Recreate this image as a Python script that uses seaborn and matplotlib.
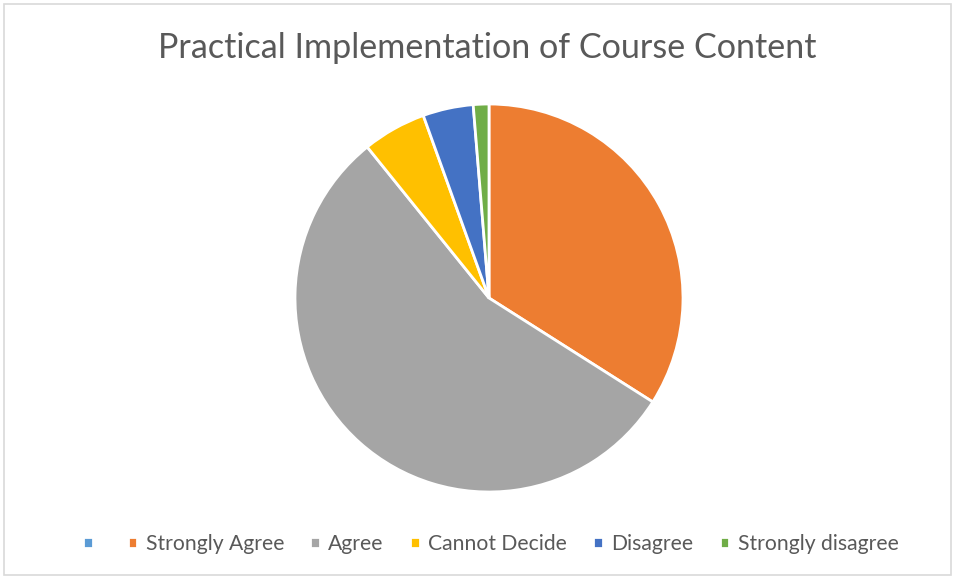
import matplotlib
matplotlib.use("Agg")
import matplotlib.pyplot as plt
from matplotlib.patches import Rectangle
import seaborn as sns

categories = ["", "Strongly Agree", "Agree", "Cannot Decide", "Disagree", "Strongly disagree"]
shares = [0, 34.0, 55.2, 5.3, 4.2, 1.3]
colors = ["#5B9BD5", "#ED7D31", "#A5A5A5", "#FFC000", "#4472C4", "#70AD47"]

sns.set_theme(style="white")
plt.rcParams["font.family"] = ["Lato", "DejaVu Sans"]

fig = plt.figure(figsize=(9.56, 5.78), dpi=100)
fig.patch.set_facecolor("white")
fig.patches.append(Rectangle((4 / 956, 3 / 578), 947 / 956, 571 / 578, transform=fig.transFigure,
                             fill=False, edgecolor="#D9D9D9", linewidth=1.2))

cx, cy, r = 489, 298, 194
ax = fig.add_axes([(cx - r) / 956, (578 - cy - r) / 578, 2 * r / 956, 2 * r / 578])
wedges, _ = ax.pie(
    shares,
    colors=sns.color_palette(colors),
    startangle=90,
    counterclock=False,
    wedgeprops={"edgecolor": "white", "linewidth": 2},
)
ax.set_xlim(-1, 1)
ax.set_ylim(-1, 1)
ax.set_aspect("equal")
ax.axis("off")

fig.text(487 / 956, 1 - 48 / 578, "Practical Implementation of Course Content",
         ha="center", va="center", fontsize=24.6, color="#595959")

fig.legend(wedges, categories, loc="center", bbox_to_anchor=(491 / 956, 34 / 578), ncol=6,
           frameon=False, fontsize=15.2, labelcolor="#595959", handlelength=0.45, handleheight=0.45,
           handletextpad=0.4, columnspacing=1.25)

fig.savefig("out.png", dpi=100)
